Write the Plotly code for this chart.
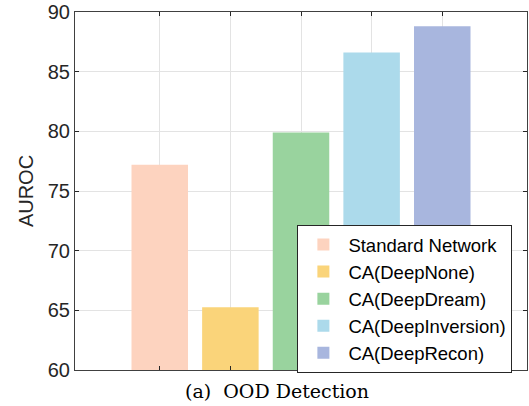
import plotly.graph_objects as go

categories = ["Standard Network", "CA(DeepNone)", "CA(DeepDream)", "CA(DeepInversion)", "CA(DeepRecon)"]
positions = [1, 2, 3, 4, 5]
auroc = [77.2, 65.25, 79.9, 86.6, 88.8]
colors = ["#FDD3BF", "#FAD47A", "#99D39E", "#ACDAEB", "#A8B6DE"]
y_ticks = [60, 65, 70, 75, 80, 85, 90]

fig = go.Figure()
for name, x, v, c in zip(categories, positions, auroc, colors):
    fig.add_trace(go.Bar(x=[x], y=[v], name=name, marker=dict(color=c, line=dict(width=0)),
                         width=0.8, base=0))

fig.update_layout(
    width=529, height=406,
    margin=dict(l=75, r=1, t=10, b=36),
    plot_bgcolor="white", paper_bgcolor="white",
    font=dict(family="Liberation Sans, Arial, sans-serif", color="#262626"),
    barmode="overlay",
    showlegend=True,
    legend=dict(x=0.492, y=0.405, xanchor="left", yanchor="top",
                bgcolor="white", bordercolor="#262626", borderwidth=1,
                font=dict(size=18.5, color="#000000"), tracegroupgap=0,
                traceorder="normal", itemwidth=40),
)
fig.update_xaxes(range=[-0.2, 6.2], tickvals=positions, ticktext=[""] * 5,
                 showgrid=True, gridcolor="#E3E3E3", gridwidth=1,
                 ticks="inside", ticklen=4, tickcolor="#262626",
                 showline=True, linecolor="#404040", linewidth=1, mirror="ticks",
                 zeroline=False)
fig.update_yaxes(range=[60, 90], tickvals=y_ticks,
                 showgrid=True, gridcolor="#E3E3E3", gridwidth=1,
                 ticks="inside", ticklen=4, tickcolor="#262626",
                 showline=True, linecolor="#404040", linewidth=1, mirror="ticks",
                 zeroline=False, tickfont=dict(size=20, color="#262626"),
                 ticklabeloverflow="allow",
                 title=dict(text="AUROC", font=dict(size=20, color="#262626"), standoff=8))

fig.add_annotation(text="(a)  OOD Detection", xref="paper", yref="paper",
                   x=(277 - 75) / 453, y=-0.022, xanchor="center", yanchor="top",
                   showarrow=False,
                   font=dict(family="DejaVu Serif, serif", size=19, color="#000000"))

fig.write_html("out.html")
